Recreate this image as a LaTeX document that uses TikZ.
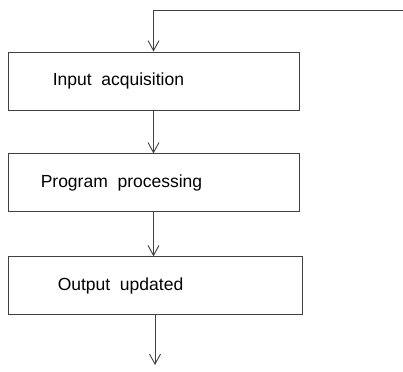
\documentclass[tikz,border=0pt]{standalone}
\usepackage{fontspec}
\setmainfont{Liberation Sans}
\usepackage{tikz}
\usetikzlibrary{positioning, arrows.meta}

\begin{document}
\begin{tikzpicture}[
    x=1pt, y=-1pt,
    node distance=43pt,
    box/.style={draw=black!75, line width=0.9pt, minimum height=58pt, minimum width=291pt, inner sep=0pt},
    lbl/.style={anchor=west, inner sep=0pt, font=\fontsize{17.5}{20}\selectfont},
    arrow/.style={-{Straight Barb[length=10pt, width=11pt]}, draw=black!75, line width=0.9pt}
]
\useasboundingbox (0,0) rectangle (403,371);
\node[box] (input) at (153.5,81) {};
\node[box, below=of input] (prog) {};
\node[box, below=44pt of prog, minimum width=294pt, xshift=1.5pt] (output) {};
\node[lbl, right=45pt of input.west] (inputtxt) {Input\ \ acquisition};
\node[lbl, right=33pt of prog.west] (progtxt) {Program\ \ processing};
\node[lbl, right=50pt of output.west] (outputtxt) {Output\ \ updated};
\coordinate (loopin) at (403,10);
\coordinate (loopcorner) at (input.north |- loopin);
\coordinate (outend) at (output.south |- 0,365);
\draw[arrow] (loopin) -- (loopcorner) -- (input.north);
\draw[arrow] (input) -- (prog);
\draw[arrow] (prog) -- (output.north -| prog.south);
\draw[arrow] (output) -- (outend);
\end{tikzpicture}
\end{document}
